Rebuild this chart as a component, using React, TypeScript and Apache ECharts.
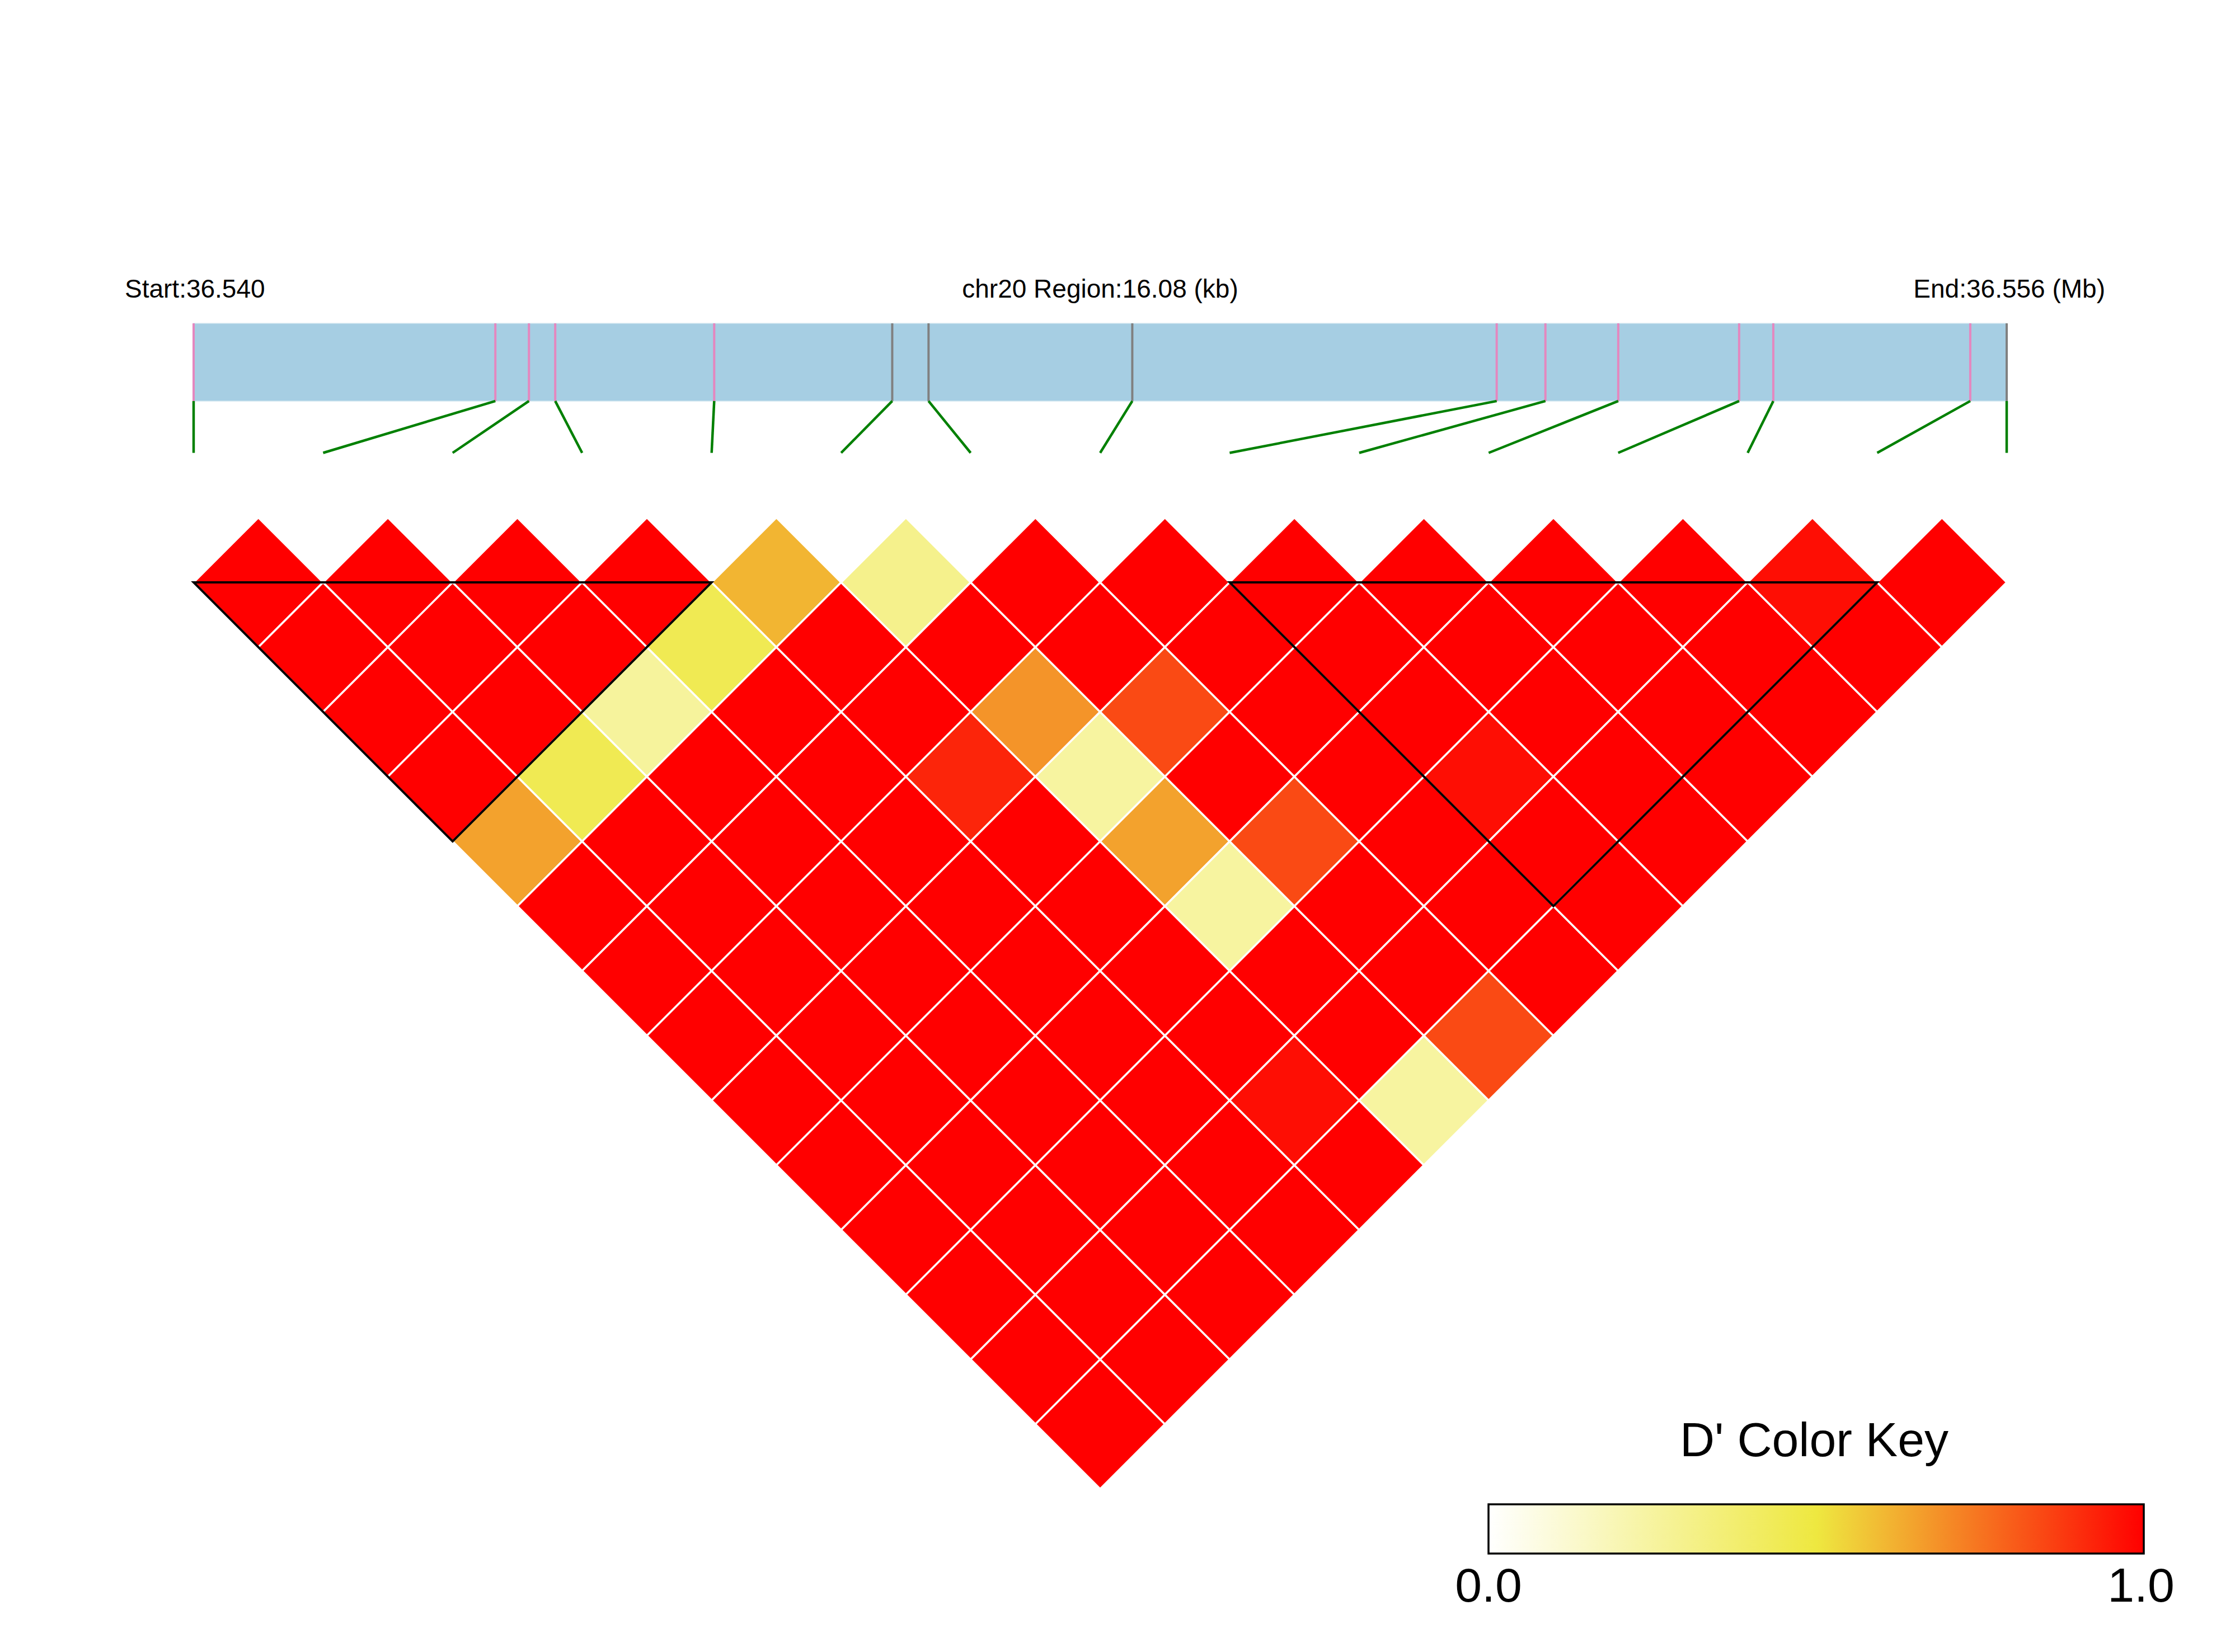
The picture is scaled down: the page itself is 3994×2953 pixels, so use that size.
import React, { useEffect, useRef } from "react";
import * as echarts from "echarts";

// ---- Data ----
const chromosome = "chr20";
const snpPositions = [
  36540100, 36542776, 36543074, 36543307, 36544717, 36546296, 36546618, 36548425,
  36551657, 36552089, 36552735, 36553807, 36554110, 36555857, 36556180,
];
// D' upper triangle: row r holds D'(r, r+1..15) (1-based SNPs)
const dRow1 = [1, 1, 1, 1, 0.65, 1, 1, 1, 1, 1, 1, 1, 1, 1];
const dRow2 = [1, 1, 1, 0.45, 1, 1, 1, 1, 1, 1, 1, 1, 1];
const dRow3 = [1, 1, 0.26, 1, 1, 1, 1, 1, 1, 1, 1, 1];
const dRow4 = [1, 0.45, 1, 1, 1, 1, 1, 1, 1, 1, 1];
const dRow5 = [0.61, 1, 1, 0.92, 1, 1, 1, 1, 0.97, 1];
const dRow6 = [0.3, 1, 0.68, 0.25, 0.65, 0.25, 1, 1, 0.25];
const dRow7 = [1, 1, 0.84, 1, 0.84, 1, 1, 0.84];
const dRow8 = [1, 1, 1, 1, 1, 1, 1];
const dRow9 = [1, 1, 1, 0.97, 1, 1];
const dRow10 = [1, 1, 1, 1, 1];
const dRow11 = [1, 1, 1, 1];
const dRow12 = [1, 1, 1];
const dRow13 = [0.97, 1];
const dRow14 = [1];
const dPrimeRows = [dRow1, dRow2, dRow3, dRow4, dRow5, dRow6, dRow7, dRow8, dRow9, dRow10, dRow11, dRow12, dRow13, dRow14];
// LD blocks (1-based first and last SNP)
const blockStarts = [1, 9];
const blockEnds = [5, 14];
const keyColors = ["#FFFFFF", "#EEE840", "#FF0000"];
const keyMin = 0;
const keyMax = 1;

const FONT = "'Liberation Sans', Arial, Helvetica, sans-serif";

export default function App() {
  const ref = useRef<HTMLDivElement>(null);
  useEffect(() => {
    document.body.style.margin = "0";
    document.body.style.overflow = "hidden";
    const chart = echarts.init(ref.current!, null, { renderer: "svg" });
    const n = snpPositions.length;
    const start = snpPositions[0];
    const end = snpPositions[n - 1];
    const physX = snpPositions.map((p) => ((p - start) / (end - start)) * (n - 1));

    const cells: number[][] = [];
    dPrimeRows.forEach((row, i) => {
      row.forEach((v, k) => {
        cells.push([i, i + 1 + k, v]);
      });
    });
    const blocks = blockStarts.map((s, b) => [s - 1, blockEnds[b] - 1]);
    const inBlock = (k: number) =>
      blocks.some(([a, b]) => k >= a && k <= b) ? 1 : 0;
    const snpMarks = physX.map((x, k) => [x, k, inBlock(k)]);

    const option: any = {
      animation: false,
      backgroundColor: "#ffffff",
      grid: { left: 346, width: 3240, top: 578, height: 2083.5 },
      xAxis: { type: "value", min: 0, max: n - 1, show: false },
      yAxis: { type: "value", min: -2, max: 7, inverse: true, show: false },
      visualMap: {
        type: "continuous",
        show: false,
        min: keyMin,
        max: keyMax,
        dimension: 2,
        seriesIndex: 0,
        inRange: { color: keyColors },
      },
      series: [
        {
          type: "custom",
          name: "D'",
          dimensions: ["i", "j", "d"],
          data: cells,
          renderItem: (params: any, api: any) => {
            const i = api.value(0);
            const j = api.value(1);
            const cx = (i + j) / 2;
            const cy = (j - i - 1) / 2;
            const pts = [
              [cx - 0.5, cy],
              [cx, cy - 0.5],
              [cx + 0.5, cy],
              [cx, cy + 0.5],
            ].map((p) => api.coord(p));
            return {
              type: "polygon",
              shape: { points: pts },
              style: { fill: api.visual("color"), stroke: "#ffffff", lineWidth: 3.5 },
            };
          },
        },
        {
          type: "custom",
          name: "blocks",
          data: blocks,
          z: 5,
          renderItem: (params: any, api: any) => {
            const a = api.value(0);
            const b = api.value(1);
            const pts = [
              [a, 0],
              [b, 0],
              [(a + b) / 2, (b - a) / 2],
            ].map((p) => api.coord(p));
            return {
              type: "polygon",
              shape: { points: pts },
              style: { fill: "none", stroke: "#000000", lineWidth: 4 },
            };
          },
        },
        {
          type: "custom",
          name: "region",
          data: [[0, n - 1]],
          renderItem: (params: any, api: any) => {
            const p0 = api.coord([api.value(0), -2]);
            const p1 = api.coord([api.value(1), -1.4]);
            return {
              type: "rect",
              shape: { x: p0[0], y: p0[1], width: p1[0] - p0[0], height: p1[1] - p0[1] },
              style: { fill: "#A6CEE3", stroke: "#D4E7F1", lineWidth: 1.5 },
            };
          },
        },
        {
          type: "custom",
          name: "snps",
          data: snpMarks,
          z: 3,
          renderItem: (params: any, api: any) => {
            const x = api.value(0);
            const k = api.value(1);
            const b = api.value(2);
            const t = api.coord([x, -2]);
            const m = api.coord([x, -1.4]);
            const e = api.coord([k, -1.0]);
            return {
              type: "group",
              children: [
                {
                  type: "line",
                  shape: { x1: t[0], y1: t[1], x2: m[0], y2: m[1] },
                  style: { stroke: b ? "#E487BF" : "#808080", lineWidth: 4 },
                },
                {
                  type: "line",
                  shape: { x1: m[0], y1: m[1], x2: e[0], y2: e[1] },
                  style: { stroke: "#008000", lineWidth: 4.5 },
                },
              ],
            };
          },
        },
      ],
      graphic: [
        {
          type: "text",
          x: 223,
          y: 516,
          style: {
            text: `Start:${(start / 1e6).toFixed(3)}`,
            fontSize: 46,
            fontFamily: FONT,
            fill: "#000",
            align: "left",
            verticalAlign: "middle",
          },
        },
        {
          type: "text",
          x: 1966,
          y: 516,
          style: {
            text: `${chromosome} Region:${((end - start) / 1000).toFixed(2)} (kb)`,
            fontSize: 46,
            fontFamily: FONT,
            fill: "#000",
            align: "center",
            verticalAlign: "middle",
          },
        },
        {
          type: "text",
          x: 3762,
          y: 516,
          style: {
            text: `End:${(end / 1e6).toFixed(3)} (Mb)`,
            fontSize: 46,
            fontFamily: FONT,
            fill: "#000",
            align: "right",
            verticalAlign: "middle",
          },
        },
        {
          type: "text",
          x: 3242,
          y: 2573,
          style: {
            text: "D' Color Key",
            fontSize: 86,
            fontFamily: FONT,
            fill: "#000",
            align: "center",
            verticalAlign: "middle",
          },
        },
        {
          type: "rect",
          shape: { x: 2660, y: 2689, width: 1171, height: 88 },
          style: {
            fill: new echarts.graphic.LinearGradient(0, 0, 1, 0, [
              { offset: 0, color: keyColors[0] },
              { offset: 0.5, color: keyColors[1] },
              { offset: 1, color: keyColors[2] },
            ]),
            stroke: "#000000",
            lineWidth: 3.5,
          },
        },
        {
          type: "text",
          x: 2660,
          y: 2833,
          style: {
            text: keyMin.toFixed(1),
            fontSize: 86,
            fontFamily: FONT,
            fill: "#000",
            align: "center",
            verticalAlign: "middle",
          },
        },
        {
          type: "text",
          x: 3826,
          y: 2833,
          style: {
            text: keyMax.toFixed(1),
            fontSize: 86,
            fontFamily: FONT,
            fill: "#000",
            align: "center",
            verticalAlign: "middle",
          },
        },
      ],
    };
    chart.setOption(option);
    return () => chart.dispose();
  }, []);
  return <div ref={ref} style={{ width: 3994, height: 2953 }} />;
}
